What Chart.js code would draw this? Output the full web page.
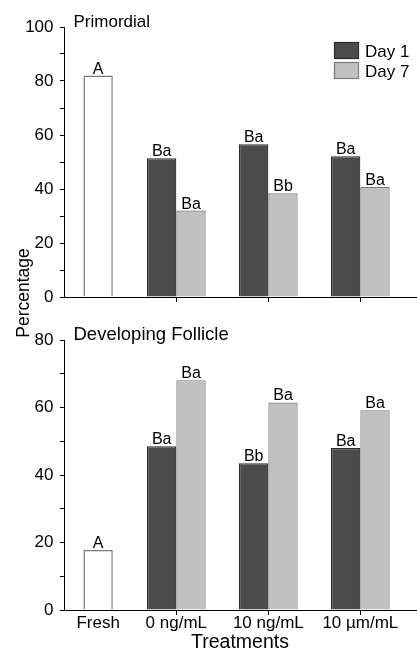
<!DOCTYPE html>
<html>
<head>
<meta charset="utf-8">
<script src="https://cdn.jsdelivr.net/npm/chart.js@4/dist/chart.umd.min.js"></script>
<style>
    html, body { margin: 0; padding: 0; background: #fff; }
    #wrap { position: relative; width: 417px; height: 653px; }
    #wrap canvas { position: absolute; left: 0; top: 0; }
</style>
</head>
<body>
<div id="wrap">
    <canvas id="topChart" width="417" height="653"></canvas>
    <canvas id="bottomChart" width="417" height="653"></canvas>
</div>
<script>
// treatments along the x axis (Fresh sits a bit closer to the first group)
const treatments = ['Fresh', '0 ng/mL', '10 ng/mL', '10 µm/mL'];
const treatmentPos = [0.15, 1, 2, 3];

// Primordial (%)
const primFresh = [82.0];
const primDay1 = [51.4, 56.6, 52.1];
const primDay7 = [32.0, 38.4, 40.7];
const primFreshTags = ['A'];
const primDay1Tags = ['Ba', 'Ba', 'Ba'];
const primDay7Tags = ['Ba', 'Bb', 'Ba'];
const primTicks = [0, 20, 40, 60, 80, 100];

// Developing follicle (%)
const devFresh = [17.8];
const devDay1 = [48.5, 43.5, 48.0];
const devDay7 = [68.1, 61.5, 59.2];
const devFreshTags = ['A'];
const devDay1Tags = ['Ba', 'Bb', 'Ba'];
const devDay7Tags = ['Ba', 'Ba', 'Ba'];
const devTicks = [0, 20, 40, 60, 80];

const seriesNames = ['Day 1', 'Day 7'];

const FONT = "'Liberation Sans', Arial, sans-serif";
Chart.defaults.font.family = FONT;
Chart.defaults.color = '#000';

const colDay1 = '#4b4b4b', edgeDay1 = '#2a2a2a';
const colDay7 = '#c0c0c0', edgeDay7 = '#7a7a7a';
const colFresh = '#ffffff', edgeFresh = '#7a7a7a';

function points(values, offset) {
    return values.map((v, i) => ({ x: treatmentPos[i + offset], y: v }));
}

function makeDatasets(fresh, day1, day7, freshTags, day1Tags, day7Tags) {
    return [
        { label: seriesNames[0], data: points(day1, 1), tags: day1Tags, backgroundColor: colDay1, borderColor: edgeDay1, borderWidth: 1.2 },
        { label: seriesNames[1], data: points(day7, 1), tags: day7Tags, backgroundColor: colDay7, borderColor: edgeDay7, borderWidth: 1.2 },
        { label: 'Fresh', data: points(fresh, 0), tags: freshTags, backgroundColor: colFresh, borderColor: edgeFresh, borderWidth: 1.5, barPercentage: 0.5 }
    ];
}

// letters above each bar
const barTags = {
    id: 'barTags',
    afterDatasetsDraw(chart) {
        const ctx = chart.ctx;
        ctx.save();
        ctx.font = '16px ' + FONT;
        ctx.fillStyle = '#000';
        ctx.textAlign = 'center';
        ctx.textBaseline = 'alphabetic';
        chart.data.datasets.forEach((ds, di) => {
            chart.getDatasetMeta(di).data.forEach((bar, i) => {
                if (ds.tags && ds.tags[i]) ctx.fillText(ds.tags[i], bar.x, bar.y - 2);
            });
        });
        ctx.restore();
    }
};

// panel heading at the top-left of the plot
const panelTitle = {
    id: 'panelTitle',
    afterDraw(chart, args, opts) {
        const ctx = chart.ctx, a = chart.chartArea;
        ctx.save();
        ctx.font = opts.size + 'px ' + FONT;
        ctx.fillStyle = '#000';
        ctx.textAlign = 'left';
        ctx.textBaseline = 'alphabetic';
        ctx.fillText(opts.text, a.left + 9.5, a.top - 0.5);
        ctx.restore();
    }
};

// Day 1 / Day 7 key inside the top panel
const boxLegend = {
    id: 'boxLegend',
    afterDraw(chart, args, opts) {
        if (!opts.show) return;
        const ctx = chart.ctx, a = chart.chartArea;
        const x = a.right - 82, y = a.top + 15;
        ctx.save();
        ctx.font = '17px ' + FONT;
        ctx.textBaseline = 'alphabetic';
        [[colDay1, edgeDay1], [colDay7, edgeDay7]].forEach((c, i) => {
            const top = y + i * 20;
            ctx.fillStyle = c[0];
            ctx.fillRect(x, top, 25, 17);
            ctx.strokeStyle = c[1];
            ctx.lineWidth = 1.2;
            ctx.strokeRect(x + 0.5, top + 0.5, 24, 16);
            ctx.fillStyle = '#000';
            ctx.fillText(seriesNames[i], x + 31, top + 15);
        });
        ctx.restore();
    }
};

// shared y title spanning both panels
const sideTitle = {
    id: 'sideTitle',
    afterDraw(chart, args, opts) {
        if (!opts.show) return;
        const ctx = chart.ctx;
        ctx.save();
        ctx.translate(28.5, 293);
        ctx.rotate(-Math.PI / 2);
        ctx.font = '17.5px ' + FONT;
        ctx.fillStyle = '#000';
        ctx.textAlign = 'center';
        ctx.textBaseline = 'alphabetic';
        ctx.fillText('Percentage', 0, 0);
        ctx.restore();
    }
};

function makeChart(id, cfg) {
    return new Chart(document.getElementById(id), {
        type: 'bar',
        data: { datasets: cfg.datasets },
        plugins: [barTags, panelTitle, boxLegend, sideTitle],
        options: {
            responsive: false,
            animation: false,
            events: [],
            skipNull: true,
            categoryPercentage: 0.75,
            barPercentage: 1,
            layout: { padding: cfg.padding },
            scales: {
                x: {
                    type: 'linear', min: -0.221, max: 3.605, offset: false,
                    afterBuildTicks: s => { s.ticks = treatmentPos.map(v => ({ value: v })); },
                    afterFit: s => { s.height = cfg.xHeight; },
                    grid: {
                        drawOnChartArea: false, offset: false, tickLength: 5,
                        color: c => c.index === 0 ? 'rgba(0,0,0,0)' : '#000'
                    },
                    border: { display: true, color: '#000', width: 1 },
                    ticks: {
                        display: cfg.showLabels, autoSkip: false, maxRotation: 0,
                        padding: -2, font: { size: 17 }, color: '#000',
                        callback: (v, i) => treatments[i]
                    },
                    title: { display: cfg.showLabels, text: 'Treatments', font: { size: 19.5 }, color: '#000', padding: { top: 0, bottom: -1 } }
                },
                y: {
                    min: 0, max: cfg.yMax, stacked: false,
                    afterFit: s => { s.width = 64; },
                    grid: { drawOnChartArea: false, tickLength: 4, color: '#000' },
                    border: { display: true, color: '#000', width: 1 },
                    ticks: {
                        stepSize: 10, padding: 6.5, font: { size: 17 }, color: '#000',
                        callback: v => cfg.yTicks.includes(v) ? v : ''
                    }
                }
            },
            plugins: {
                legend: { display: false },
                tooltip: { enabled: false },
                panelTitle: { text: cfg.title, size: cfg.titleSize },
                boxLegend: { show: cfg.legend },
                sideTitle: { show: cfg.sideTitle }
            }
        }
    });
}

makeChart('topChart', {
    datasets: makeDatasets(primFresh, primDay1, primDay7, primFreshTags, primDay1Tags, primDay7Tags),
    padding: { top: 27, left: 0, right: 1, bottom: 346 },
    xHeight: 10, showLabels: false,
    yMax: 100, yTicks: primTicks,
    title: 'Primordial', titleSize: 17,
    legend: true, sideTitle: true
});

makeChart('bottomChart', {
    datasets: makeDatasets(devFresh, devDay1, devDay7, devFreshTags, devDay1Tags, devDay7Tags),
    padding: { top: 340, left: 0, right: 1, bottom: 0 },
    xHeight: 43, showLabels: true,
    yMax: 80, yTicks: devTicks,
    title: 'Developing Follicle', titleSize: 18.5,
    legend: false, sideTitle: false
});
</script>
</body>
</html>
